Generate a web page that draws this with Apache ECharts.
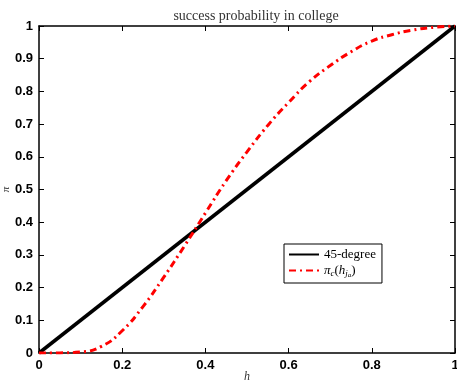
<!DOCTYPE html>
<html>
<head>
<meta charset="utf-8">
<script src="https://cdn.jsdelivr.net/npm/echarts@6/dist/echarts.min.js"></script>
<style>
  html, body { margin: 0; padding: 0; background: #fff; }
  #chart { width: 457px; height: 383px; }
</style>
</head>
<body>
<div id="chart"></div>
<script>
// values
const hGrid = [0, 0.05, 0.1, 0.15, 0.2, 0.25, 0.3, 0.35, 0.4, 0.45, 0.5,
  0.55, 0.6, 0.65, 0.7, 0.75, 0.8, 0.85, 0.9, 0.95, 1];
const piC = [0, 0.0003, 0.003, 0.02, 0.068, 0.142, 0.232, 0.328, 0.428, 0.527, 0.615,
  0.696, 0.766, 0.830, 0.879, 0.921, 0.954, 0.974, 0.988, 0.996, 1];
const diagH = [0, 1];
const diagV = [0, 1];

const chart = echarts.init(document.getElementById('chart'));

const tickLabel = v => String(Number(v.toFixed(1)));
const labelFont = {
  color: '#000', fontWeight: 'bold', fontSize: 13,
  fontFamily: 'Liberation Sans, Arial, sans-serif'
};
const boxAxis = {
  min: 0, max: 1,
  axisLine: { show: true, onZero: false, lineStyle: { color: '#000', width: 1.5 } },
  axisTick: { show: true, inside: true, length: 5, lineStyle: { color: '#000', width: 1 } },
  splitLine: { show: false }
};

chart.setOption({
  animation: false,
  title: {
    text: 'success probability in college',
    left: 251, top: 4, textAlign: 'center',
    textStyle: { fontFamily: 'Liberation Serif, Times New Roman, serif', fontSize: 14, fontWeight: 'normal', color: '#333' }
  },
  grid: { left: 39, right: 2, top: 26, bottom: 30, outerBoundsMode: 'none', containLabel: false },
  legend: {
    orient: 'vertical',
    left: 284, top: 244,
    borderColor: '#000', borderWidth: 1,
    padding: [4, 6, 4, 4],
    itemGap: 3,
    itemWidth: 30, itemHeight: 12,
    itemStyle: { opacity: 0 },
    textStyle: {
      fontFamily: 'Liberation Serif, Times New Roman, serif', fontSize: 13, color: '#000',
      rich: {
        i: { fontFamily: 'Liberation Serif, serif', fontStyle: 'italic', fontSize: 13 },
        n: { fontFamily: 'Liberation Serif, serif', fontSize: 13 },
        s: { fontFamily: 'Liberation Serif, serif', fontStyle: 'italic', fontSize: 9, padding: [6, 0, 0, 0] },
        ss: { fontFamily: 'Liberation Serif, serif', fontStyle: 'italic', fontSize: 7, padding: [10, 0, 0, 0] }
      }
    },
    formatter: name => name === 'pi'
      ? '{i|π}{s|c}{n|(}{i|h}{s|j}{ss|a}{n|)}'
      : name,
    data: ['45-degree', 'pi']
  },
  xAxis: [
    Object.assign({}, boxAxis, {
      type: 'value', position: 'bottom', interval: 0.2,
      axisLabel: Object.assign({ margin: 6, formatter: tickLabel }, labelFont),
      name: 'h', nameLocation: 'middle', nameGap: 18, nameMoveOverlap: false,
      nameTextStyle: { fontFamily: 'Liberation Serif, serif', fontStyle: 'italic', fontSize: 12, color: '#333' }
    }),
    Object.assign({}, boxAxis, {
      type: 'value', position: 'top', interval: 0.2, axisLabel: { show: false }
    })
  ],
  yAxis: [
    Object.assign({}, boxAxis, {
      type: 'value', position: 'left', interval: 0.1,
      axisLabel: Object.assign({ margin: 6, formatter: tickLabel }, labelFont),
      name: 'π', nameLocation: 'middle', nameGap: 27, nameRotate: 90, nameMoveOverlap: false,
      nameTextStyle: { fontFamily: 'Liberation Serif, serif', fontStyle: 'italic', fontSize: 11, color: '#333' }
    }),
    Object.assign({}, boxAxis, {
      type: 'value', position: 'right', interval: 0.1, axisLabel: { show: false }
    })
  ],
  series: [
    {
      name: '45-degree', type: 'line', symbol: 'none',
      data: diagH.map((h, i) => [h, diagV[i]]),
      lineStyle: { color: '#000', width: 3.5 },
      itemStyle: { color: '#000' }
    },
    {
      name: 'pi', type: 'line', symbol: 'none', smooth: true,
      data: hGrid.map((h, i) => [h, piC[i]]),
      lineStyle: { color: '#ff0000', width: 3, type: [7, 4, 2, 4] },
      itemStyle: { color: '#ff0000' }
    }
  ]
});
</script>
</body>
</html>
